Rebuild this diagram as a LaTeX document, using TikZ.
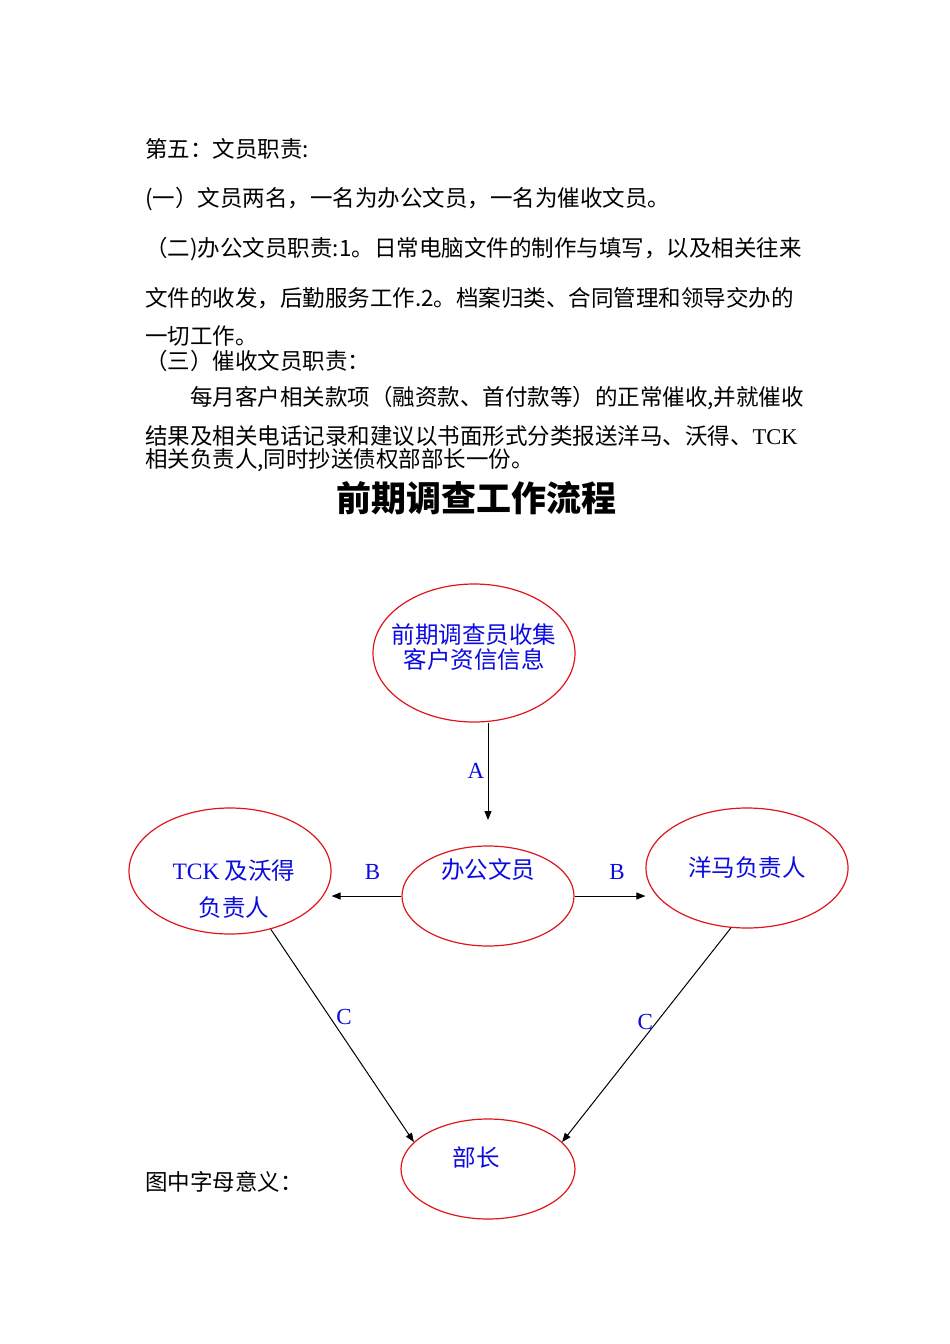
\documentclass[tikz,border=0pt]{standalone}
\usepackage{fontspec}
\setmainfont{Liberation Serif}
\newfontfamily\cjk{Noto Sans CJK SC}
\usepackage{tikz}
\usetikzlibrary{arrows.meta,positioning,shapes.geometric}
\definecolor{bubred}{RGB}{225,20,30}
\definecolor{txtblue}{RGB}{10,10,225}
\tikzset{
  >={Triangle[length=9pt,width=7pt]},
  para/.style={anchor=west, inner sep=0pt, font=\cjk\fontsize{22.5}{26}\selectfont},
  bubble/.style={draw=bubred, line width=1.2pt, ellipse, inner sep=0pt},
  bubtxt/.style={text=txtblue, align=center, font=\cjk\fontsize{23.5}{25}\selectfont},
  letter/.style={text=txtblue, font=\fontsize{23}{25}\selectfont},
  conn/.style={->, black, line width=1pt},
}

\begin{document}
\begin{tikzpicture}[x=1pt,y=-1pt]
  \useasboundingbox (0,0) rectangle (950,1344);
  % duties text
  \node[para] (l1) at (145,149) {第五：文员职责:};
  \node[para] (l2) at (145,199) {(一）文员两名，一名为办公文员，一名为催收文员。};
  \node[para] (l3) at (145,249) {（二)办公文员职责:1。日常电脑文件的制作与填写，以及相关往来};
  \node[para] (l4) at (145,298) {文件的收发，后勤服务工作.2。档案归类、合同管理和领导交办的};
  \node[para] (l5) at (145,336) {一切工作。};
  \node[para] (l6) at (145,361) {（三）催收文员职责：};
  \node[para] (l7) at (190,398) {每月客户相关款项（融资款、首付款等）的正常催收,并就催收};
  \node[para] (l8) at (145,436) {结果及相关电话记录和建议以书面形式分类报送洋马、沃得、{\rmfamily TCK}};
  \node[para] (l9) at (145,460) {相关负责人,同时抄送债权部部长一份。};
  \node[font=\cjk\bfseries\fontsize{35}{40}\selectfont] (title) at (476,498) {前期调查工作流程};

  % flow
  \node[bubble, minimum width=202, minimum height=138,
        label={[bubtxt, yshift=6]center:前期调查员收集\\客户资信信息}] (survey) at (474,653) {};
  \node[bubble, minimum width=172, minimum height=100,
        label={[bubtxt, yshift=26]center:办公文员}] (office) at (488,896) {};
  \node[bubble, minimum width=202, minimum height=126,
        label={[bubtxt, xshift=4, yshift=-18]center:{\rmfamily TCK} 及沃得\\[12pt]负责人}] (tck) at (230,871) {};
  \node[bubble, minimum width=202, minimum height=120,
        label={[bubtxt]center:洋马负责人}] (yangma) at (747,868) {};
  \node[bubble, minimum width=174, minimum height=100,
        label={[bubtxt, xshift=-12, yshift=12]center:部长}] (boss) at (488,1169) {};
  \coordinate (aend) at (488,820);

  \draw[conn] (survey.south -| aend) -- node[letter, left] {A} (aend);
  \draw[conn] (office.west) -- node[letter, above=13pt, xshift=6] {B} (office.west -| tck.east);
  \draw[conn] (office.east) -- node[letter, above=13pt, xshift=7] {B} (office.east -| yangma.west);
  \draw[conn] (tck.305) -- node[letter, pos=.41, right, xshift=3] {C} (boss.160);
  \draw[conn] (yangma.255) -- node[letter, pos=.44, left] {C} (boss.20);

  \node[para] (legend) at (145,1182) {图中字母意义：};
\end{tikzpicture}
\end{document}
